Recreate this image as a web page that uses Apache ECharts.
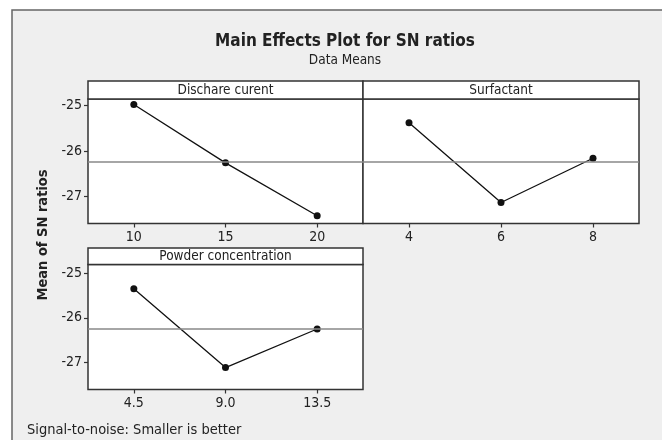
<!DOCTYPE html>
<html>
<head>
<meta charset="utf-8">
<script src="https://cdn.jsdelivr.net/npm/echarts@6/dist/echarts.min.js"></script>
<style>
  html, body { margin: 0; padding: 0; background: #fff; }
  #main { width: 662px; height: 440px; }
</style>
</head>
<body>
<div id="main"></div>
<script>
// factor levels and mean SN ratios
const dischargeLevels = ['10', '15', '20']
const dischargeMeans = [-24.98, -26.26, -27.42]
const surfactantLevels = ['4', '6', '8']
const surfactantMeans = [-25.38, -27.13, -26.16]
const powderLevels = ['4.5', '9.0', '13.5']
const powderMeans = [-25.35, -27.11, -26.25]
const grandMean = -26.24
const yTicks = [-25, -26, -27]

const FONT = '"DejaVu Sans Condensed", "DejaVu Sans", sans-serif'
const chart = echarts.init(document.getElementById('main'))

/* one panel = grid + x axis + y axis + line series */
function xAxisFor(idx, levels) {
  return {
    type: 'category',
    gridIndex: idx,
    data: levels,
    boundaryGap: true,
    axisLine: { show: false },
    axisTick: { show: true, alignWithLabel: true, length: 4, lineStyle: { color: '#333', width: 1.2 } },
    axisLabel: { color: '#222', fontSize: 14, fontFamily: FONT, margin: 7 }
  }
}
function yAxisFor(idx, min, max, labels) {
  return {
    type: 'value',
    gridIndex: idx,
    min: min,
    max: max,
    splitLine: { show: false },
    axisLine: { show: false },
    axisTick: { show: labels, length: 4, customValues: yTicks, lineStyle: { color: '#333', width: 1.2 } },
    axisLabel: { show: labels, customValues: yTicks, color: '#222', fontSize: 14, fontFamily: FONT, margin: 6 }
  }
}
function lineFor(idx, values) {
  return {
    type: 'line',
    xAxisIndex: idx,
    yAxisIndex: idx,
    data: values,
    symbol: 'circle',
    symbolSize: 7,
    itemStyle: { color: '#111' },
    lineStyle: { color: '#111', width: 1.3 },
    animation: false,
    markLine: {
      silent: true,
      symbol: 'none',
      label: { show: false },
      lineStyle: { color: '#888', width: 1.5, type: 'solid' },
      data: [{ yAxis: grandMean }]
    }
  }
}
function header(x, y, w, h, text) {
  return {
    type: 'group',
    children: [
      { type: 'rect', shape: { x: x, y: y, width: w, height: h }, style: { fill: '#fff', stroke: '#333', lineWidth: 1.5 } },
      { type: 'text', x: x + w / 2, y: y + h / 2 + 0.5, style: { text: text, fill: '#222', fontSize: 13.5, fontFamily: FONT, align: 'center', verticalAlign: 'middle' } }
    ]
  }
}

const gridStyle = { show: true, backgroundColor: '#fff', borderColor: '#333', borderWidth: 1.5 }

chart.setOption({
  animation: false,
  title: {
    text: 'Main Effects Plot for SN ratios',
    subtext: 'Data Means',
    left: 340,
    top: 28,
    textAlign: 'center',
    itemGap: 3,
    textStyle: { fontSize: 17, fontWeight: 'bold', color: '#222', fontFamily: FONT },
    subtextStyle: { fontSize: 13.5, color: '#222', fontFamily: FONT }
  },
  grid: [
    Object.assign({ left: 88, top: 99, width: 275, height: 124.5 }, gridStyle),
    Object.assign({ left: 363, top: 99, width: 276, height: 124.5 }, gridStyle),
    Object.assign({ left: 88, top: 264.5, width: 275, height: 125 }, gridStyle)
  ],
  xAxis: [
    xAxisFor(0, dischargeLevels),
    xAxisFor(1, surfactantLevels),
    xAxisFor(2, powderLevels)
  ],
  yAxis: [
    yAxisFor(0, -27.59, -24.86, true),
    yAxisFor(1, -27.59, -24.86, false),
    yAxisFor(2, -27.6, -24.81, true)
  ],
  series: [
    lineFor(0, dischargeMeans),
    lineFor(1, surfactantMeans),
    lineFor(2, powderMeans)
  ],
  graphic: [
    // outer frame
    { type: 'rect', z: -10, shape: { x: 12, y: 10, width: 700, height: 500 }, style: { fill: '#efefef', stroke: '#666', lineWidth: 1.5 } },
    header(88, 81, 275, 18, 'Dischare curent'),
    header(363, 81, 276, 18, 'Surfactant'),
    header(88, 248, 275, 16.5, 'Powder concentration'),
    {
      type: 'text', x: 43, y: 235, rotation: Math.PI / 2,
      style: { text: 'Mean of SN ratios', fill: '#222', fontSize: 14.5, fontWeight: 'bold', fontFamily: FONT, align: 'center', verticalAlign: 'middle' }
    },
    {
      type: 'text', x: 27, y: 430,
      style: { text: 'Signal-to-noise: Smaller is better', fill: '#222', fontSize: 14.5, fontFamily: FONT, align: 'left', verticalAlign: 'middle' }
    }
  ]
})
</script>
</body>
</html>
